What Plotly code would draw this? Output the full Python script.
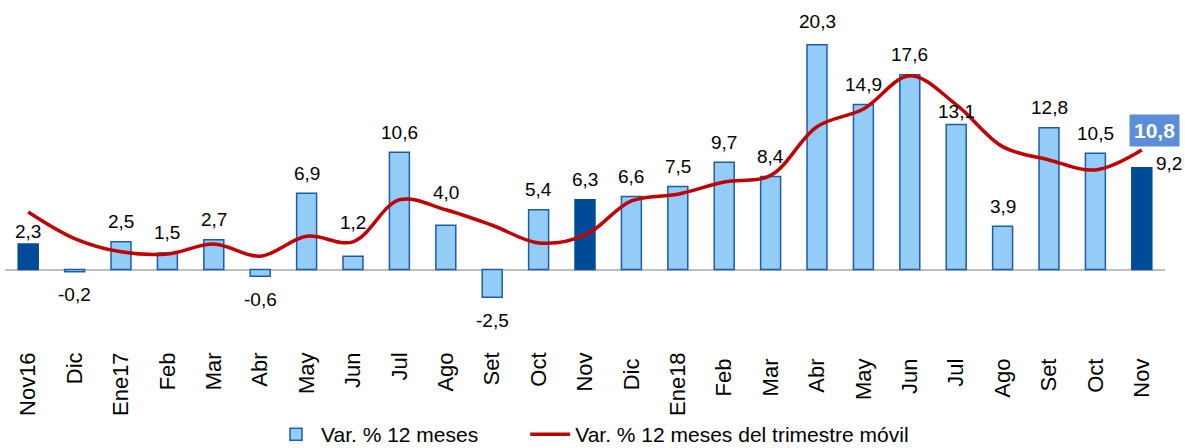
import plotly.graph_objects as go

categories = ["Nov16", "Dic", "Ene17", "Feb", "Mar", "Abr", "May", "Jun", "Jul", "Ago", "Set",
              "Oct", "Nov", "Dic ", "Ene18", "Feb ", "Mar ", "Abr ", "May ", "Jun ", "Jul ",
              "Ago ", "Set ", "Oct ", "Nov "]
var12 = [2.3, -0.2, 2.5, 1.5, 2.7, -0.6, 6.9, 1.2, 10.6, 4.0, -2.5, 5.4, 6.3, 6.6, 7.5, 9.7,
         8.4, 20.3, 14.9, 17.6, 13.1, 3.9, 12.8, 10.5, 9.2]
trim_movil = [5.2, 2.8, 1.6, 1.4, 2.3, 1.2, 3.0, 2.5, 6.3, 5.4, 4.0, 2.4, 3.1, 6.2, 6.8, 7.9,
              8.5, 12.9, 14.5, 17.5, 14.9, 11.1, 9.9, 9.0, 10.8]
highlight = {0, 12, 24}

light = "#93CDF7"
dark = "#004B98"
edge = "#1F5CA8"
red = "#C00000"
font_family = "Liberation Sans, Arial, sans-serif"

fill_colors = [dark if i in highlight else light for i in range(len(categories))]
line_colors = [dark if i in highlight else edge for i in range(len(categories))]

fig = go.Figure()
fig.add_trace(go.Bar(
    x=categories, y=var12, name="Var. % 12 meses", showlegend=False,
    marker=dict(color=fill_colors, line=dict(color=line_colors, width=1.5)),
    hoverinfo="skip",
))
# legend entry with the standard (light) bar colour
fig.add_trace(go.Bar(
    x=[categories[0]], y=[None], name="Var. % 12 meses\u2003\u2003", showlegend=True,
    marker=dict(color=light, line=dict(color=edge, width=1.5)),
    hoverinfo="skip",
))
fig.add_trace(go.Scatter(
    x=categories, y=trim_movil, name="Var. % 12 meses del trimestre móvil",
    mode="lines", line=dict(color=red, width=3.5, shape="spline", smoothing=1.0),
    hoverinfo="skip",
))

def fmt(v):
    return f"{v:.1f}".replace(".", ",")

# label offsets (pixels) for labels moved away from the line
special_shift = {0: 13, 7: 34, 9: 33, 17: 23, 20: 13}
annotations = []
for i, (c, v) in enumerate(zip(categories, var12)):
    if i == len(categories) - 1:
        annotations.append(dict(x=c, y=v, text=fmt(v), showarrow=False, xshift=27, yshift=4,
                                font=dict(size=19, color="black", family=font_family)))
        continue
    if v >= 0:
        ys = special_shift.get(i, 20)
    else:
        ys = -23
    annotations.append(dict(x=c, y=v, text=fmt(v), showarrow=False, yshift=ys,
                            yanchor="middle",
                            font=dict(size=19, color="black", family=font_family)))

last = len(categories) - 1
annotations.append(dict(x=categories[last], y=trim_movil[last], text="<b>" + fmt(trim_movil[last]) + "</b>",
                        showarrow=False, xshift=13, yshift=19, bgcolor="#5B8ED6",
                        borderpad=4, font=dict(size=21, color="white", family=font_family)))

fig.update_layout(
    width=1185, height=448,
    margin=dict(l=5, r=20, t=26, b=101),
    paper_bgcolor="white", plot_bgcolor="white",
    bargap=0.57, barmode="overlay",
    showlegend=True,
    legend=dict(orientation="h", x=0.5, xanchor="center", xref="container",
                y=0.03, yanchor="middle", yref="container",
                font=dict(size=21, color="black", family=font_family),
                itemwidth=40, tracegroupgap=0, bgcolor="rgba(0,0,0,0)"),
    annotations=annotations,
    xaxis=dict(type="category", tickangle=-90, showgrid=False, showline=False, ticks="",
               automargin=False, range=[-0.5, len(categories) - 0.5],
               tickfont=dict(size=22, color="black", family=font_family)),
    yaxis=dict(range=[-7, 22], showgrid=False, showticklabels=False, zeroline=True,
               automargin=False,
               zerolinecolor="#BFBFBF", zerolinewidth=1.5),
    font=dict(family=font_family),
)

fig.write_html("out.html", config={"displayModeBar": False},
               post_script="document.body.style.margin='0';")
